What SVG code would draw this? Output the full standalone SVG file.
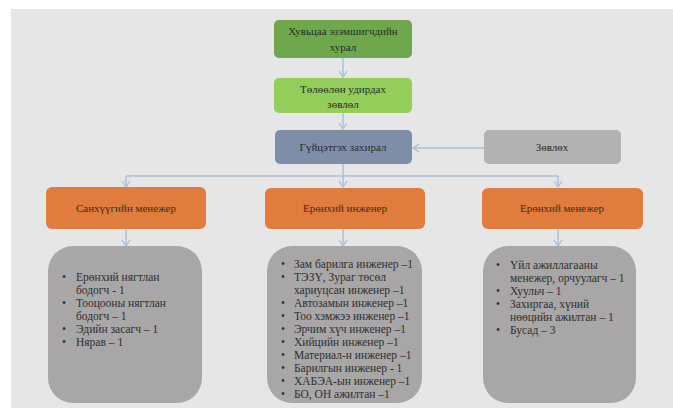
<svg xmlns="http://www.w3.org/2000/svg" width="673" height="408" viewBox="0 0 673 408">
<style>
text{font-family:'Liberation Serif','DejaVu Serif',serif}
.lbl{font-size:11px;fill:#2b2b2b;text-anchor:middle}
.olbl{font-size:11px;fill:#4a2a14;text-anchor:middle}
.li{font-size:11.5px;fill:#2f2f2f}
.conn{stroke:#a9c0d8;stroke-width:1.5;fill:none}
.g1{fill:#6fa84c}
.g2{fill:#93cd5a}
.sl{fill:#7f8ea8}
.gr{fill:#b2b2b2}
.or{fill:#e07c3e}
.bx{fill:#a8a6a6}
</style>
<defs>
<marker id="ah" markerWidth="10" markerHeight="10" refX="7" refY="5" orient="auto" markerUnits="userSpaceOnUse">
<path d="M1,1 L7,5 L1,9" fill="none" stroke="#a9c0d8" stroke-width="1.3"/>
</marker>
</defs>
<rect x="0" y="0" width="673" height="408" fill="#ffffff"/>
<rect x="11" y="9" width="662" height="399" fill="#e6e6e6"/>

<g id="connectors">
<line class="conn" x1="343" y1="58" x2="343" y2="77" marker-end="url(#ah)"/>
<line class="conn" x1="343" y1="113" x2="343" y2="129" marker-end="url(#ah)"/>
<line class="conn" x1="484" y1="148" x2="413" y2="148" marker-end="url(#ah)"/>
<polyline class="conn" points="343,164 343,176"/>
<line class="conn" x1="126" y1="176" x2="558" y2="176"/>
<line class="conn" x1="126" y1="176" x2="126" y2="187" marker-end="url(#ah)"/>
<line class="conn" x1="343" y1="176" x2="343" y2="187" marker-end="url(#ah)"/>
<line class="conn" x1="558" y1="176" x2="558" y2="187" marker-end="url(#ah)"/>
<line class="conn" x1="126" y1="229" x2="126" y2="246" marker-end="url(#ah)"/>
<line class="conn" x1="343" y1="229" x2="343" y2="246" marker-end="url(#ah)"/>
<line class="conn" x1="558" y1="229" x2="558" y2="246" marker-end="url(#ah)"/>
</g>

<g id="shareholders">
<rect class="g1" x="274" y="20" width="138" height="38" rx="5"/>
<text class="lbl" x="343" y="35">Хувьцаа эзэмшигчдийн</text>
<text class="lbl" x="343" y="51">хурал</text>
</g>

<g id="board">
<rect class="g2" x="274" y="78" width="138" height="35" rx="5"/>
<text class="lbl" x="343" y="93">Төлөөлөн удирдах</text>
<text class="lbl" x="343" y="108">зөвлөл</text>
</g>

<g id="ceo">
<rect class="sl" x="275" y="130" width="137" height="34" rx="5"/>
<text class="lbl" x="343" y="151">Гүйцэтгэх захирал</text>
</g>

<g id="advisor">
<rect class="gr" x="484" y="130" width="137" height="34" rx="5"/>
<text class="lbl" x="552" y="151">Зөвлөх</text>
</g>

<g id="finance">
<rect class="or" x="46" y="187" width="160" height="42" rx="6"/>
<text class="olbl" x="126" y="212">Санхүүгийн менежер</text>
</g>

<g id="chief-engineer">
<rect class="or" x="265" y="188" width="160" height="41" rx="6"/>
<text class="olbl" x="345" y="212">Ерөнхий инженер</text>
</g>

<g id="general-manager">
<rect class="or" x="482" y="188" width="161" height="41" rx="6"/>
<text class="olbl" x="562" y="212">Ерөнхий менежер</text>
</g>

<g id="finance-staff">
<rect class="bx" x="48" y="246" width="154" height="157" rx="25"/>
<text class="li" x="62" y="281">•</text>
<text class="li" x="76" y="281">Ерөнхий  нягтлан</text>
<text class="li" x="76" y="294">бодогч - 1</text>
<text class="li" x="62" y="307">•</text>
<text class="li" x="76" y="307">Тооцооны нягтлан</text>
<text class="li" x="76" y="320">бодогч – 1</text>
<text class="li" x="62" y="333">•</text>
<text class="li" x="76" y="333">Эдийн засагч – 1</text>
<text class="li" x="62" y="346">•</text>
<text class="li" x="76" y="346">Нярав – 1</text>
</g>

<g id="engineering-staff">
<rect class="bx" x="267" y="246" width="155" height="157" rx="25"/>
<text class="li" x="281" y="268">•</text>
<text class="li" x="294" y="268">Зам барилга инженер –1</text>
<text class="li" x="281" y="281">•</text>
<text class="li" x="294" y="281">ТЭЗҮ, Зураг төсөл</text>
<text class="li" x="294" y="294">хариуцсан инженер –1</text>
<text class="li" x="281" y="307">•</text>
<text class="li" x="294" y="307">Автозамын инженер –1</text>
<text class="li" x="281" y="320">•</text>
<text class="li" x="294" y="320">Тоо хэмжээ инженер –1</text>
<text class="li" x="281" y="333">•</text>
<text class="li" x="294" y="333">Эрчим хүч инженер –1</text>
<text class="li" x="281" y="346">•</text>
<text class="li" x="294" y="346">Хийцийн инженер –1</text>
<text class="li" x="281" y="359">•</text>
<text class="li" x="294" y="359">Материал-н инженер –1</text>
<text class="li" x="281" y="372">•</text>
<text class="li" x="294" y="372">Барилгын инженер - 1</text>
<text class="li" x="281" y="385">•</text>
<text class="li" x="294" y="385">ХАБЭА-ын инженер –1</text>
<text class="li" x="281" y="398">•</text>
<text class="li" x="294" y="398">БО, ОН ажилтан –1</text>
</g>

<g id="management-staff">
<rect class="bx" x="483" y="246" width="153" height="157" rx="25"/>
<text class="li" x="496" y="269">•</text>
<text class="li" x="510" y="269">Үйл ажиллагааны</text>
<text class="li" x="510" y="282">менежер, орчуулагч – 1</text>
<text class="li" x="496" y="295">•</text>
<text class="li" x="510" y="295">Хуульч – 1</text>
<text class="li" x="496" y="308">•</text>
<text class="li" x="510" y="308">Захиргаа, хүний</text>
<text class="li" x="510" y="321">нөөцийн ажилтан – 1</text>
<text class="li" x="496" y="334">•</text>
<text class="li" x="510" y="334">Бусад  – 3</text>
</g>
</svg>
